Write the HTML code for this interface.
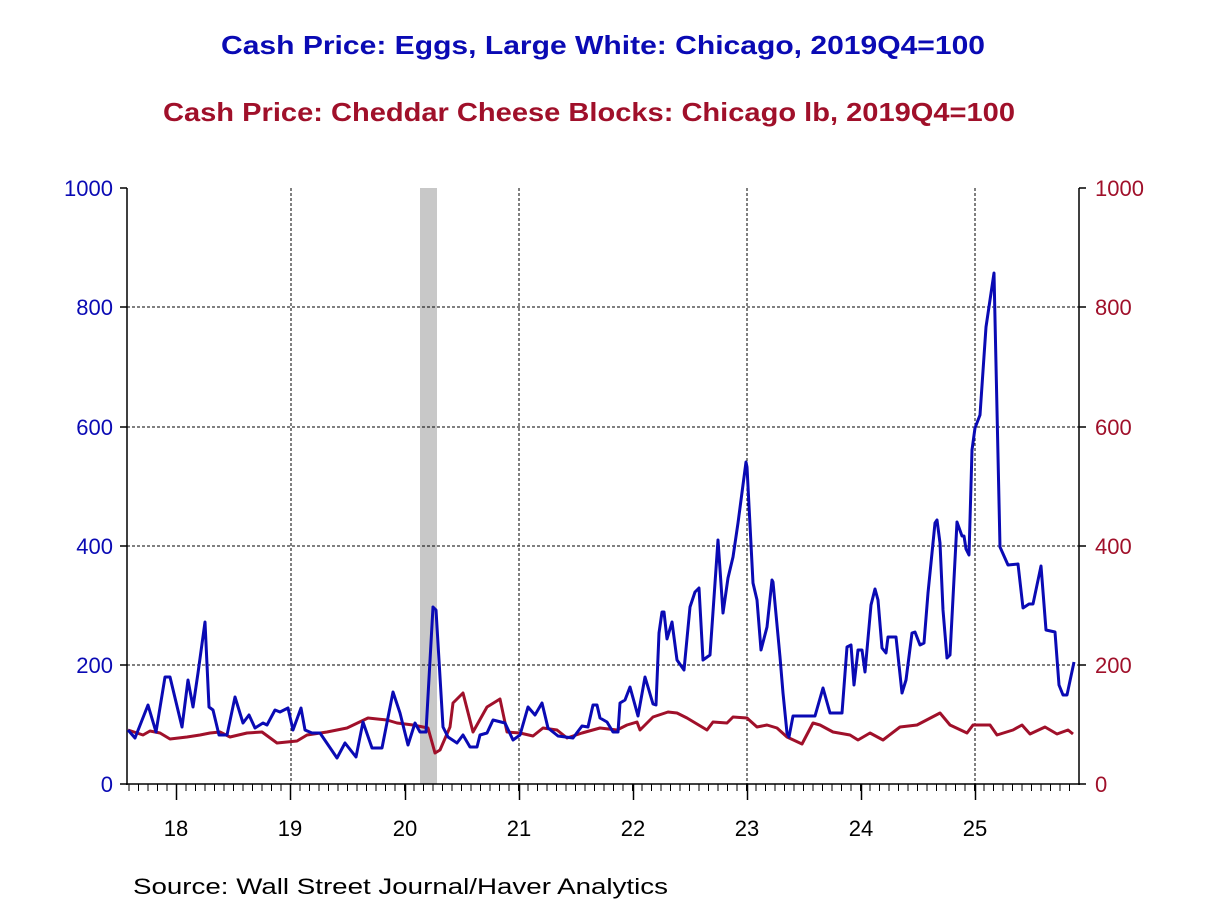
<!DOCTYPE html>
<html><head><meta charset="utf-8"><style>
body{margin:0;background:#fff;}
svg{display:block;font-family:"Liberation Sans",Arial,sans-serif;}
</style></head><body>
<svg width="1208" height="906" viewBox="0 0 1208 906" xmlns="http://www.w3.org/2000/svg">
<defs>
<pattern id="mt" x="176" y="784" width="9.5" height="7" patternUnits="userSpaceOnUse">
<rect x="0" y="0" width="1" height="7" fill="#000"/>
</pattern>
</defs>
<text x="603" y="54" text-anchor="middle" font-size="26" font-weight="bold" fill="#0a0ab4" textLength="764" lengthAdjust="spacingAndGlyphs">Cash Price: Eggs, Large White: Chicago, 2019Q4=100</text>
<text x="589" y="121" text-anchor="middle" font-size="26" font-weight="bold" fill="#a0102a" textLength="852" lengthAdjust="spacingAndGlyphs">Cash Price: Cheddar Cheese Blocks: Chicago lb, 2019Q4=100</text>
<rect x="420" y="188" width="17" height="596" fill="#c8c8c8"/>
<g stroke="#000" stroke-width="1" stroke-dasharray="3,2">
<line x1="127" y1="665" x2="1079" y2="665"/><line x1="127" y1="546" x2="1079" y2="546"/>
<line x1="127" y1="427" x2="1079" y2="427"/><line x1="127" y1="307" x2="1079" y2="307"/>
<line x1="291" y1="188" x2="291" y2="784"/><line x1="519" y1="188" x2="519" y2="784"/>
<line x1="747" y1="188" x2="747" y2="784"/><line x1="975" y1="188" x2="975" y2="784"/>
</g>
<rect x="128" y="784" width="950" height="7" fill="url(#mt)"/>
<g stroke="#000" stroke-width="1.5" fill="none">
<line x1="127" y1="188" x2="127" y2="785"/><line x1="1079" y1="188" x2="1079" y2="785"/>
<line x1="126" y1="784" x2="1080" y2="784"/>
<path d="M120 188H127M120 307H127M120 427H127M120 546H127M120 665H127M120 784H127M1079 188H1086M1079 307H1086M1079 427H1086M1079 546H1086M1079 665H1086M1079 784H1086"/>
<path d="M176.5 784V800M290.5 784V800M405.5 784V800M519.5 784V800M633.5 784V800M747.5 784V800M861.5 784V800M975.5 784V800"/>
</g>
<g font-size="22" fill="#0a0ab4" text-anchor="end">
<text x="113" y="196">1000</text><text x="113" y="315">800</text><text x="113" y="435">600</text>
<text x="113" y="554">400</text><text x="113" y="673">200</text><text x="113" y="792">0</text>
</g>
<g font-size="22" fill="#a0102a">
<text x="1095" y="196">1000</text><text x="1095" y="315">800</text><text x="1095" y="435">600</text>
<text x="1095" y="554">400</text><text x="1095" y="673">200</text><text x="1095" y="792">0</text>
</g>
<g font-size="22" fill="#000" text-anchor="middle">
<text x="176" y="836">18</text><text x="290" y="836">19</text><text x="405" y="836">20</text><text x="519" y="836">21</text>
<text x="633" y="836">22</text><text x="747" y="836">23</text><text x="861" y="836">24</text><text x="975" y="836">25</text>
</g>
<text x="133" y="894" font-size="22" fill="#000" textLength="535" lengthAdjust="spacingAndGlyphs">Source:  Wall Street Journal/Haver Analytics</text>
<polyline fill="none" stroke="#a0102a" stroke-width="3" stroke-linejoin="round" points="128,730 143,735 150,731 160,733 170,739 187,737 200,735 210,733 220,732 230,737 247,733 262,732 277,743 297,741 307,735 327,732 347,728 368,718 387,720 397,723 413,725 428,728 435,753 440,750 450,727 453,703 463,693 473,732 487,707 500,699 507,732 520,733 533,736 543,728 557,730 567,738 582,733 600,728 617,730 627,725 637,722 640,730 653,717 668,712 677,713 687,718 707,730 713,722 727,723 733,717 747,718 757,727 767,725 777,728 787,737 802,744 813,723 820,725 833,732 850,735 858,740 870,733 883,740 900,727 917,725 940,713 950,725 967,733 973,725 990,725 997,735 1013,730 1022,725 1030,734 1045,727 1057,734 1068,730 1073,734"/>
<polyline fill="none" stroke="#0a0ab4" stroke-width="3" stroke-linejoin="round" points="128,730 135,738 148,705 156,732 165,677 170,677 182,727 188,680 193,707 198,673 205,622 209,707 213,710 219,735 227,735 235,697 243,723 249,715 255,728 263,723 267,725 275,710 280,712 288,708 293,730 301,708 305,730 312,733 320,733 337,758 345,743 356,757 363,722 372,748 382,748 393,692 400,713 408,745 415,723 420,732 426,732 433,607 436,610 443,727 448,737 457,743 463,735 470,747 477,747 480,735 487,733 493,720 505,723 513,740 520,735 528,707 535,715 542,703 548,728 558,736 573,738 582,726 588,727 593,705 597,705 600,718 607,722 613,732 618,732 620,703 625,700 630,687 638,716 645,677 648,687 653,704 656,705 659,633 662,612 664,612 667,639 672,622 677,660 684,670 690,607 695,592 699,588 703,660 710,655 718,540 723,613 728,578 733,557 738,523 746,462 747,467 753,583 757,600 761,650 767,627 772,580 773,582 780,657 783,693 787,733 789,737 793,716 815,716 823,688 830,713 842,713 847,647 851,645 854,685 858,650 862,650 865,672 871,605 875,589 878,600 882,648 886,653 888,637 896,637 902,693 906,680 912,633 915,632 920,645 924,643 928,593 935,523 937,520 940,543 943,610 947,658 950,655 957,522 962,536 964,536 966,549 969,555 972,450 975,428 980,415 986,327 990,300 994,273 1000,547 1008,565 1018,564 1023,608 1029,604 1033,604 1041,566 1046,630 1055,632 1059,685 1063,695 1067,695 1074,662"/>
</svg>
</body></html>
